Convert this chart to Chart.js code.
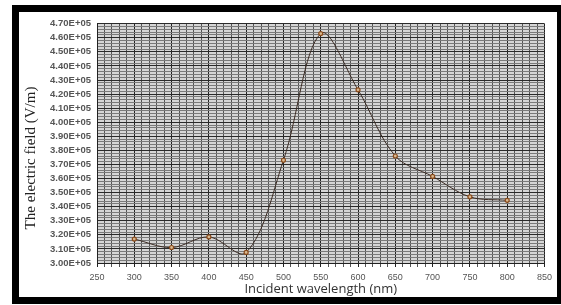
<!DOCTYPE html>
<html>
<head>
<meta charset="utf-8">
<script src="https://cdn.jsdelivr.net/npm/chart.js@4/dist/chart.umd.min.js"></script>
<style>
  html, body { margin: 0; padding: 0; background: #fff; }
  body { width: 561px; height: 305px; position: relative; overflow: hidden; }
  #frame {
    position: absolute; left: 12px; top: 5px;
    width: 538px; height: 285px;
    border: 7px solid #000; background: #fff;
  }
  #wrap { position: absolute; left: 0; top: 0; width: 538px; height: 285px; }
</style>
</head>
<body>
<div id="frame"><div id="wrap"><canvas id="chart"></canvas></div></div>
<script>
// wavelength (nm) and electric field (V/m)
const wavelengths = [300, 350, 400, 450, 500, 550, 600, 650, 700, 750, 800];
const fieldValues = [317000, 311000, 318500, 307500, 373000, 463000, 423000, 376000, 361500, 347000, 344500];

const xTicks = [250, 300, 350, 400, 450, 500, 550, 600, 650, 700, 750, 800, 850];
const yMin = 300000, yMax = 470000;

const points = wavelengths.map((w, i) => ({ x: w, y: fieldValues[i] }));

const isMajorY = v => Math.abs(v / 10000 - Math.round(v / 10000)) < 1e-6;
const isMajorX = v => xTicks.includes(Math.round(v));

// gray plot background + rotated serif y title
const extras = {
  id: 'extras',
  beforeDraw(chart) {
    const { ctx, chartArea: a } = chart;
    ctx.save();
    ctx.fillStyle = '#d6d6d6';
    ctx.fillRect(a.left, a.top, a.right - a.left, a.bottom - a.top);
    ctx.restore();
  },
  afterDraw(chart) {
    const ctx = chart.ctx;
    ctx.save();
    ctx.translate(12, 146);
    ctx.rotate(-Math.PI / 2);
    ctx.font = '15px "Liberation Serif", serif';
    ctx.fillStyle = '#222';
    ctx.textAlign = 'center';
    ctx.textBaseline = 'middle';
    ctx.fillText('The electric field (V/m)', 0, 0);
    ctx.restore();
  }
};

new Chart(document.getElementById('chart'), {
  type: 'line',
  data: {
    datasets: [{
      data: points,
      borderColor: '#3a2a22',
      borderWidth: 1,
      tension: 0.35,
      fill: false,
      pointRadius: 2,
      pointBorderWidth: 1.2,
      pointBorderColor: '#8a4a1a',
      pointBackgroundColor: '#d8b890',
    }]
  },
  options: {
    responsive: true,
    maintainAspectRatio: false,
    animation: false,
    layout: { padding: { top: 6, right: 7, left: 0, bottom: 0 } },
    plugins: { legend: { display: false }, tooltip: { enabled: false } },
    scales: {
      x: {
        type: 'linear',
        min: 250, max: 850,
        ticks: {
          stepSize: 10,
          autoSkip: false,
          maxRotation: 0,
          padding: 5,
          color: '#555',
          font: { family: '"Liberation Sans Narrow", "Liberation Sans", sans-serif', size: 9 },
          callback: v => isMajorX(v) ? String(v) : ''
        },
        grid: {
          color: c => isMajorX(c.tick.value) ? '#222' : '#555',
          lineWidth: 1,
          drawTicks: true,
          tickLength: 4
        },
        border: { color: '#222' },
        title: {
          display: true,
          text: 'Incident wavelength (nm)',
          color: '#333',
          font: { family: '"Open Sans", sans-serif', size: 13 },
          padding: { top: 0, bottom: 0 }
        },
        afterFit: s => { s.height = 34; }
      },
      y: {
        min: yMin, max: yMax,
        ticks: {
          stepSize: 2000,
          autoSkip: false,
          padding: 6,
          color: '#555',
          font: { family: '"Liberation Sans", sans-serif', size: 9.5, weight: 'bold' },
          callback: v => isMajorY(v) ? (v / 100000).toFixed(2) + 'E+05' : ''
        },
        grid: {
          color: c => isMajorY(c.tick.value) ? '#2a2a2a' : '#7a7a7a',
          lineWidth: 1,
          drawTicks: false
        },
        border: { color: '#222' },
        afterFit: s => { s.width = 78; }
      }
    }
  },
  plugins: [extras]
});
</script>
</body>
</html>
